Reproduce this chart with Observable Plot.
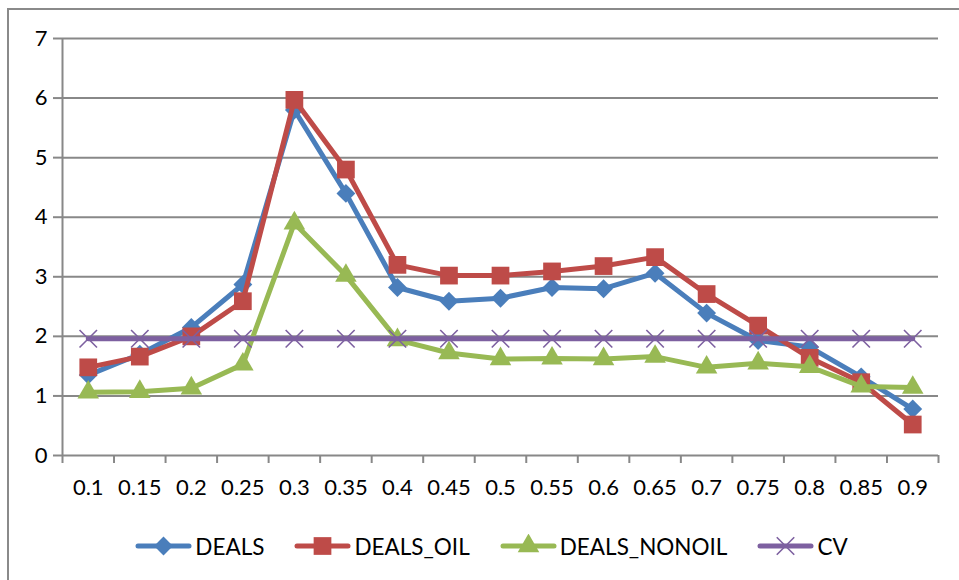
<!DOCTYPE html>
<html><head><meta charset="utf-8">
<script src="https://cdn.jsdelivr.net/npm/d3@7"></script>
<script src="https://cdn.jsdelivr.net/npm/@observablehq/plot@0.6"></script>
<style>
body{margin:0;background:#fff;}
#wrap{position:relative;width:959px;height:580px;overflow:hidden;font-family:Lato,sans-serif;background:#fff;}
#frame{position:absolute;left:7px;top:8px;width:1200px;height:1000px;border-left:2px solid #8a8a8a;border-top:2px solid #8a8a8a;}
#chart{position:absolute;left:0;top:0;}
#legend{position:absolute;left:12px;top:530px;width:959px;height:32px;display:flex;justify-content:center;align-items:center;font-size:22.5px;color:#000;}
.item{display:flex;align-items:center;margin:0 15px;}
.item span{margin-left:3px;}
</style></head>
<body><div id="wrap"><div id="frame"></div><div id="chart"></div><div id="legend"></div></div>
<script>
const categories = ["0.1","0.15","0.2","0.25","0.3","0.35","0.4","0.45","0.5","0.55","0.6","0.65","0.7","0.75","0.8","0.85","0.9"];
const deals       = [1.35,1.70,2.15,2.87,5.80,4.40,2.82,2.59,2.64,2.82,2.80,3.06,2.39,1.93,1.82,1.32,0.78];
const dealsOil    = [1.48,1.66,2.00,2.59,5.97,4.80,3.20,3.02,3.02,3.09,3.18,3.33,2.71,2.18,1.64,1.23,0.52];
const dealsNonoil = [1.06,1.07,1.13,1.53,3.90,3.02,1.94,1.72,1.62,1.63,1.62,1.66,1.48,1.55,1.49,1.16,1.14];
const cv          = [1.96,1.96,1.96,1.96,1.96,1.96,1.96,1.96,1.96,1.96,1.96,1.96,1.96,1.96,1.96,1.96,1.96];
const yTicks = [0,1,2,3,4,5,6,7];

const seriesNames = ["DEALS","DEALS_OIL","DEALS_NONOIL","CV"];
const seriesValues = [deals, dealsOil, dealsNonoil, cv];
const colors = ["#4a7ebb","#be4b48","#98b954","#7d60a0"];
const symbols = ["diamond2","square","triangle","times"];
const radii = [8.5,10,8,8];

const rows = seriesNames.map((name, s) => categories.map((c, i) => ({series: name, i, cat: c, value: seriesValues[s][i]})));
const boundaries = d3.range(categories.length + 1).map(i => i - 0.5);
const grid = "#888888";

const marks = [
  Plot.ruleY(yTicks.filter(d => d > 0), {stroke: grid, strokeWidth: 2}),
  Plot.ruleY([0], {stroke: grid, strokeWidth: 2}),
  Plot.ruleX([-0.5], {y1: 0, y2: 7, stroke: grid, strokeWidth: 2}),
  Plot.axisY({ticks: yTicks, tickSize: 9, tickPadding: 6, stroke: grid, strokeWidth: 2, fontSize: 22, tickFormat: d => d, label: null}),
  Plot.axisX({ticks: boundaries, tickSize: 8, stroke: grid, strokeWidth: 2, tickFormat: () => "", label: null}),
  Plot.axisX({ticks: d3.range(categories.length), tickSize: 0, tickPadding: 24, fontSize: 22, tickFormat: i => categories[i], label: null})
];
rows.forEach((data, s) => {
  marks.push(Plot.line(data, {x: "i", y: "value", stroke: colors[s], strokeWidth: 5, strokeLinejoin: "round", strokeLinecap: "round"}));
  if (symbols[s] === "times") {
    marks.push(Plot.dot(data, {x: "i", y: "value", symbol: "times", r: radii[s], stroke: colors[s], strokeWidth: 1.6}));
  } else {
    marks.push(Plot.dot(data, {x: "i", y: "value", symbol: symbols[s], r: radii[s], fill: colors[s], stroke: "none"}));
  }
});

const chart = Plot.plot({
  width: 959, height: 520,
  marginLeft: 62, marginRight: 21, marginTop: 38, marginBottom: 65,
  style: {fontFamily: "Lato, sans-serif", color: "#000", background: "transparent", overflow: "visible"},
  x: {type: "linear", domain: [-0.5, categories.length - 0.5]},
  y: {domain: [0, 7]},
  marks
});
document.getElementById("chart").appendChild(chart);

const legend = d3.select("#legend");
seriesNames.forEach((name, s) => {
  const it = legend.append("div").attr("class", "item");
  const svg = it.append("svg").attr("width", 57).attr("height", 24);
  svg.append("line").attr("x1", 3).attr("x2", 54).attr("y1", 12).attr("y2", 12)
    .attr("stroke", colors[s]).attr("stroke-width", 5).attr("stroke-linecap", "round");
  const symMap = {diamond2: d3.symbolDiamond2, square: d3.symbolSquare, triangle: d3.symbolTriangle, times: d3.symbolTimes};
  const p = svg.append("path").attr("transform", "translate(28.5,12)")
    .attr("d", d3.symbol(symMap[symbols[s]], Math.PI * radii[s] * radii[s])());
  if (symbols[s] === "times") p.attr("fill", "none").attr("stroke", colors[s]).attr("stroke-width", 1.6);
  else p.attr("fill", colors[s]);
  it.append("span").text(name);
});
</script></body></html>
